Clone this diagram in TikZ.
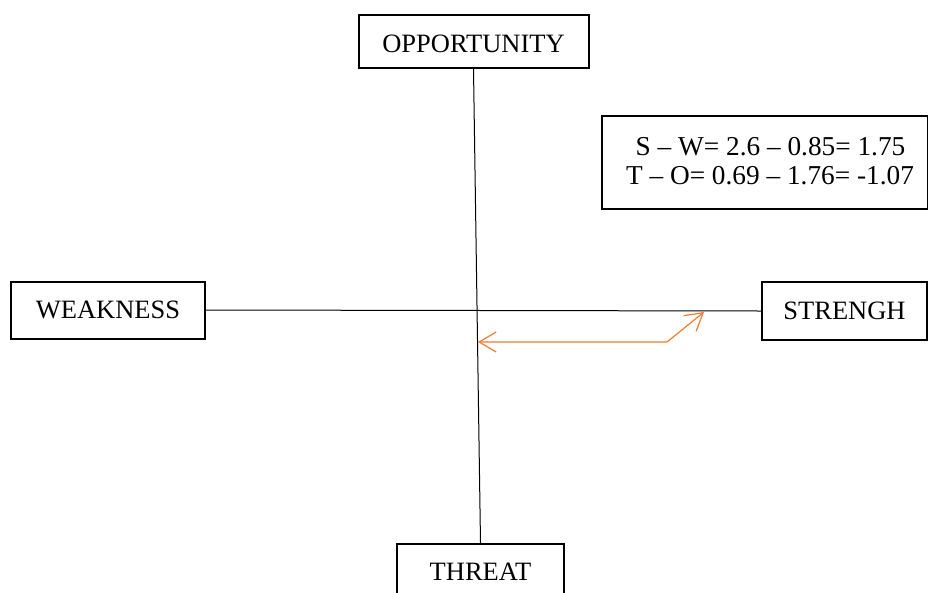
\documentclass[tikz,border=0pt]{standalone}
\usepackage{fontspec}
\setmainfont{Liberation Serif}
\usetikzlibrary{arrows.meta}
\definecolor{arrorange}{RGB}{237,125,49}
\begin{document}
\begin{tikzpicture}[x=1pt,y=-1pt,
  lbl/.style={draw=black, line width=2pt, inner sep=0pt, font=\fontsize{26.5}{29}\selectfont},
  axis/.style={draw=black, line width=1pt},
  txt/.style={inner sep=0pt, font=\fontsize{26.5}{29}\selectfont, align=center},
  infotxt/.style={inner sep=0pt, font=\fontsize{27.3}{30}\selectfont, align=center},
  orangearrow/.style={draw=arrorange, line width=1.2pt, {Straight Barb[length=17pt,width=20pt,line width=1.2pt]}-{Straight Barb[length=17pt,width=20pt,line width=1.2pt]}}
]
\useasboundingbox (0,0) rectangle (928,592);
\node[lbl, minimum width=230pt, minimum height=53pt] (opp) at (473.5,41.5) {};
\node[txt, anchor=base] (opptext) at (473.5,52) {OPPORTUNITY};
\node[lbl, minimum width=194pt, minimum height=57pt] (weak) at (108,310) {WEAKNESS};
\node[lbl, minimum width=165pt, minimum height=58pt] (str) at (844.5,311) {STRENGH};
\node[lbl, minimum width=167pt, minimum height=57pt, anchor=north] (thr) at (480.5,543) {};
\node[txt, anchor=base] (thrtext) at (480.5,580) {THREAT};
\node[lbl, minimum width=326pt, minimum height=93pt, anchor=north west] (info) at (601,115) {};
\node[infotxt, anchor=base] (infol1) at (770.5,155) {S – W= 2.6 – 0.85= 1.75};
\node[infotxt, anchor=base] (infol2) at (770,184.5) {T – O= 0.69 – 1.76= -1.07};
\draw[axis] (opp.south) -- (thr.north);
\draw[axis] (weak.east) -- (str.west);
\coordinate (a1) at (478,342);
\coordinate (a2) at (667,342);
\coordinate (a3) at (704,312);
\draw[orangearrow] (a1) -- (a2) -- (a3);
\end{tikzpicture}
\end{document}
